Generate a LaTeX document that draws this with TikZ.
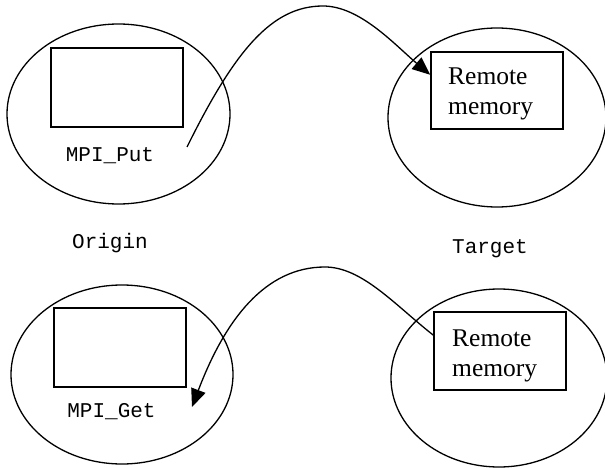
\documentclass[tikz,border=0pt]{standalone}
\usepackage{fontspec}
\setmainfont{Liberation Serif}
\newfontfamily\monofnt{Liberation Mono}
\usetikzlibrary{shapes.geometric,arrows.meta,calc}
\begin{document}
\begin{tikzpicture}[x=1pt,y=-1pt,
  proc/.style={draw,ellipse,line width=1.3pt,inner sep=0pt},
  buf/.style={draw,rectangle,line width=1.5pt,inner sep=0pt},
  mono/.style={font=\monofnt\fontsize{21}{24}\selectfont,inner sep=0pt},
  memtxt/.style={font=\fontsize{25.5}{30}\selectfont,align=left,inner sep=0pt},
  link/.style={line width=1.3pt},
  tip/.style={-{Triangle[length=18pt,width=15pt]}}]
\useasboundingbox (0,0) rectangle (605,468);
% top row
\node[proc,minimum width=223pt,minimum height=180pt] (oe1) at (118.5,114) {};
\node[buf,minimum width=132pt,minimum height=79pt] (ob1) at (117,87.5) {};
\node[mono,anchor=base] (put) at (110,161) {MPI\_Put};
\node[proc,minimum width=218pt,minimum height=179pt] (te1) at (497,117.5) {};
\node[buf,minimum width=132pt,minimum height=77pt] (tb1) at (497,90.5) {};
\node[memtxt,anchor=base west] (tt1) at (448,115) {Remote\\memory};
% labels
\node[mono,anchor=base] (orig) at (110,248) {Origin};
\node[mono,anchor=base] (targ) at (490,253) {Target};
% bottom row
\node[proc,minimum width=222pt,minimum height=179pt] (oe2) at (122,374.5) {};
\node[buf,minimum width=132pt,minimum height=79pt] (ob2) at (120,347.5) {};
\node[mono,anchor=base] (get) at (111.5,417) {MPI\_Get};
\node[proc,minimum width=216pt,minimum height=178pt] (te2) at (499,378) {};
\node[buf,minimum width=132pt,minimum height=78pt] (tb2) at (500,351) {};
\node[memtxt,anchor=base west] (tt2) at (452,376) {Remote\\memory};
% connectors
\coordinate (pstart) at (187,147);
\coordinate (gtip) at (192,407);
\draw[link,tip] (pstart) .. controls (235,50) and (272,6) .. (323,6)
  .. controls (360,6) and (395,45) .. ($(tb1.north west)!0.3!(tb1.south west)$);
\draw[link,tip] ($(tb2.north west)!0.3!(tb2.south west)$)
  .. controls (395,305) and (362,267) .. (325,267)
  .. controls (265,267) and (225,320) .. (gtip);
\end{tikzpicture}
\end{document}
